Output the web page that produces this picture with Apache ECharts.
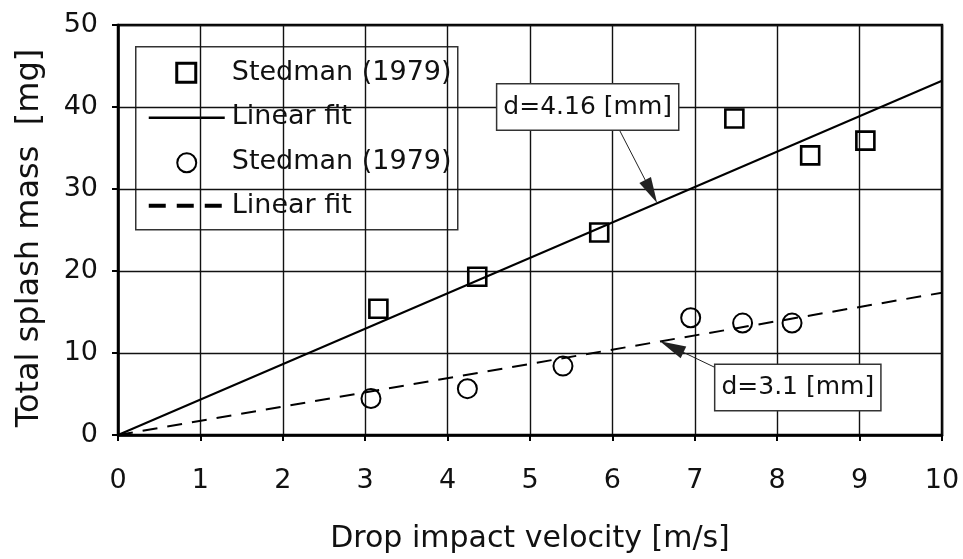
<!DOCTYPE html>
<html>
<head>
<meta charset="utf-8">
<script src="https://cdn.jsdelivr.net/npm/echarts@6/dist/echarts.min.js"></script>
<style>
html,body{margin:0;padding:0;background:#fff;}
#chart{width:963px;height:559px;}
</style>
</head>
<body>
<div id="chart"></div>
<script>
// ---- data ----
var xTicks = [0, 1, 2, 3, 4, 5, 6, 7, 8, 9, 10];
var yTicks = [0, 10, 20, 30, 40, 50];
var squaresX = [3.16, 4.36, 5.84, 7.48, 8.40, 9.07];
var squaresY = [15.4, 19.3, 24.7, 38.6, 34.1, 35.9];
var circlesX = [3.07, 4.24, 5.40, 6.95, 7.58, 8.18];
var circlesY = [4.45, 5.65, 8.4, 14.3, 13.65, 13.65];
var fitX = [0, 10];
var fitSolidY = [0, 43.2];
var fitDashedY = [0, 17.35];
var seriesNames = ['Stedman (1979)', 'Linear fit', 'Stedman (1979)', 'Linear fit'];
var annot1 = {text: 'd=4.16 [mm]', box: [5.70, 40.0], tail: [6.09, 37.1], head: [6.47, 29.7]};
var annot2 = {text: 'd=3.1 [mm]', box: [8.25, 5.78], tail: [7.28, 8.07], head: [6.72, 10.76]};

function pairs(xs, ys) { return xs.map(function (x, i) { return [x, ys[i]]; }); }

var FONT = 'DejaVu Sans';
var TXT = '#111';

var chart = echarts.init(document.getElementById('chart'), null, {renderer: 'canvas'});

function annotMarkPoint(a) {
  return {
    symbol: 'rect', symbolSize: 1, silent: true,
    itemStyle: {color: 'rgba(0,0,0,0)'},
    label: {
      show: true, position: 'inside', formatter: a.text,
      fontFamily: FONT, fontSize: 25, color: TXT,
      backgroundColor: '#fff', borderColor: '#333', borderWidth: 1.5,
      padding: [11, 6, 9, 6]
    },
    data: [{coord: a.box}]
  };
}
function annotMarkLine(a) {
  return {
    silent: true, symbol: ['none', 'triangle'], symbolSize: [13, 26],
    lineStyle: {color: '#222', width: 1, type: 'solid', opacity: 1},
    itemStyle: {color: '#000'},
    label: {show: false},
    data: [[{coord: a.tail}, {coord: a.head}]]
  };
}

var option = {
  backgroundColor: '#fff',
  animation: false,
  grid: {left: 118, right: 21, top: 25, bottom: 119, show: true, borderColor: '#000', borderWidth: 2.5, backgroundColor: 'transparent'},
  xAxis: {
    type: 'value', min: xTicks[0], max: xTicks[xTicks.length - 1], interval: 1,
    name: 'Drop impact velocity [m/s]', nameLocation: 'middle', nameGap: 89,
    nameTextStyle: {fontFamily: FONT, fontSize: 30, color: TXT},
    axisLine: {show: true, lineStyle: {color: '#000', width: 2.5}},
    axisTick: {show: true, length: 6, lineStyle: {color: '#000', width: 2}},
    axisLabel: {fontFamily: FONT, fontSize: 27, color: TXT, margin: 32},
    splitLine: {show: true, lineStyle: {color: '#111', width: 1.4}}
  },
  yAxis: {
    type: 'value', min: yTicks[0], max: yTicks[yTicks.length - 1], interval: 10,
    name: 'Total splash mass  [mg]', nameLocation: 'middle', nameGap: 72, nameRotate: 90,
    nameTextStyle: {fontFamily: FONT, fontSize: 32, color: TXT, padding: [0, 16, 0, 0]},
    axisLine: {show: true, lineStyle: {color: '#000', width: 2.5}},
    axisTick: {show: true, length: 6, lineStyle: {color: '#000', width: 2}},
    axisLabel: {fontFamily: FONT, fontSize: 27, color: TXT, margin: 20},
    splitLine: {show: true, lineStyle: {color: '#111', width: 1.4}}
  },
  series: [
    {
      name: seriesNames[1], type: 'line', data: pairs(fitX, fitSolidY),
      symbol: 'none', lineStyle: {color: '#000', width: 2}, z: 3,
      markLine: annotMarkLine(annot1), markPoint: annotMarkPoint(annot1)
    },
    {
      name: seriesNames[3], type: 'line', data: pairs(fitX, fitDashedY),
      symbol: 'none', lineStyle: {color: '#000', width: 2, type: [15, 10]}, z: 3,
      markLine: annotMarkLine(annot2), markPoint: annotMarkPoint(annot2)
    },
    {
      name: seriesNames[0], type: 'scatter', data: pairs(squaresX, squaresY),
      symbol: 'rect', symbolSize: 18,
      itemStyle: {color: 'rgba(255,255,255,0)', borderColor: '#000', borderWidth: 2.6, opacity: 1}, z: 4
    },
    {
      name: seriesNames[2], type: 'scatter', data: pairs(circlesX, circlesY),
      symbol: 'circle', symbolSize: 19,
      itemStyle: {color: 'rgba(255,255,255,0)', borderColor: '#000', borderWidth: 2, opacity: 1}, z: 4
    }
  ],
  graphic: [
    {
      type: 'group', left: 135, top: 46, z: 100,
      children: [
        {type: 'rect', shape: {x: 0, y: 0, width: 322, height: 183}, style: {fill: '#fff', stroke: '#333', lineWidth: 1.5}},
        {type: 'rect', shape: {x: 41, y: 16.5, width: 19, height: 19}, style: {fill: 'none', stroke: '#000', lineWidth: 3}},
        {type: 'text', x: 96, y: 26, style: {text: seriesNames[0], font: '27px "' + FONT + '"', fill: TXT, verticalAlign: 'middle'}},
        {type: 'line', shape: {x1: 13, y1: 71, x2: 89, y2: 71}, style: {stroke: '#000', lineWidth: 2.5}},
        {type: 'text', x: 96, y: 70, style: {text: seriesNames[1], font: '27px "' + FONT + '"', fill: TXT, verticalAlign: 'middle'}},
        {type: 'circle', shape: {cx: 51, cy: 116, r: 9.5}, style: {fill: 'none', stroke: '#000', lineWidth: 2}},
        {type: 'text', x: 96, y: 115, style: {text: seriesNames[2], font: '27px "' + FONT + '"', fill: TXT, verticalAlign: 'middle'}},
        {type: 'line', shape: {x1: 13, y1: 159, x2: 89, y2: 159}, style: {stroke: '#000', lineWidth: 4, lineDash: [17, 11]}},
        {type: 'text', x: 96, y: 159, style: {text: seriesNames[3], font: '27px "' + FONT + '"', fill: TXT, verticalAlign: 'middle'}}
      ]
    }
  ]
};
chart.setOption(option);
</script>
</body>
</html>
